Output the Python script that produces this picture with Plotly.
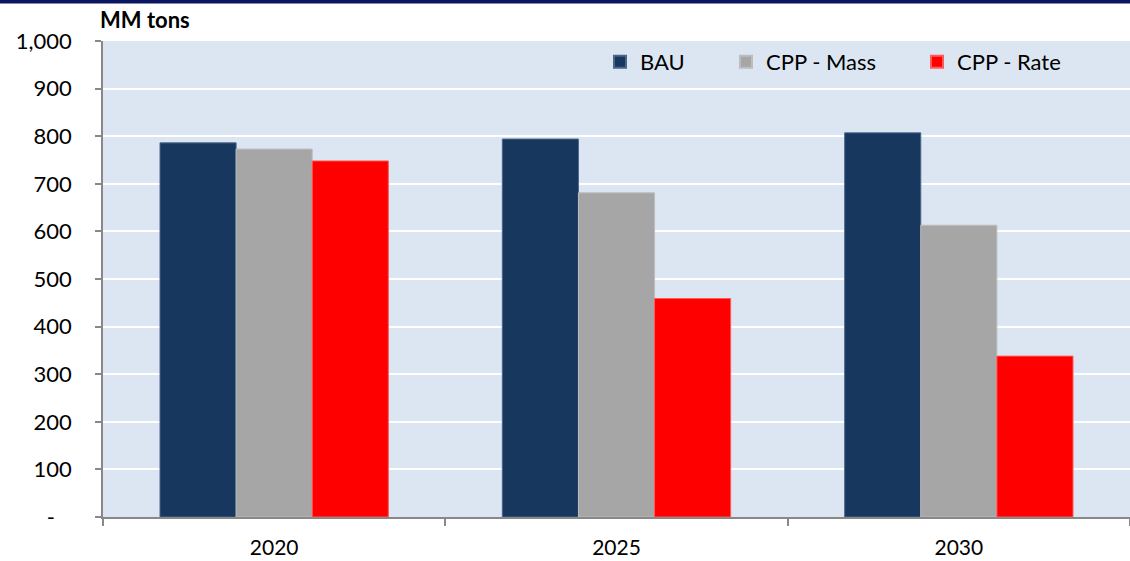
import plotly.graph_objects as go

categories = ["2020", "2025", "2030"]
bau = [786, 794, 807]
cpp_mass = [773, 681, 613]
cpp_rate = [748, 459, 338]
series_names = ["BAU", "CPP - Mass", "CPP - Rate"]
colors = ["#17375E", "#A6A6A6", "#FF0000"]
y_tickvals = [0, 100, 200, 300, 400, 500, 600, 700, 800, 900, 1000]
y_ticktext = ["-\u00a0\u00a0\u00a0", "100", "200", "300", "400", "500", "600", "700", "800", "900", "1,000"]

FONT = "Lato"
fig = go.Figure()
legend_ids = ["legend2", "legend3", "legend4"]
outline = ["#4A6688", "#BDBDBD", "#FF5A5A"]
for vals, name, col, lg, oc in zip([bau, cpp_mass, cpp_rate], series_names, colors, legend_ids, outline):
    fig.add_trace(go.Bar(x=categories, y=vals, name=name, legend=lg, showlegend=True,
                         marker=dict(color=col, line=dict(color=oc, width=1))))

W, H = 1130, 561
L, R, T, B = 103, 0, 41, 44
plot_w = W - L - R
plot_h = H - T - B

def px_x(px):
    return (px - L) / plot_w

def px_y(py):
    return (H - B - py) / plot_h

legend_common = dict(orientation="h", xanchor="left", yanchor="middle",
                     bgcolor="rgba(0,0,0,0)", font=dict(family=FONT, size=22, color="#000000"),
                     itemsizing="constant", itemwidth=30)
leg_pos = [600, 726, 917]
fig.update_layout(
    width=W, height=H,
    margin=dict(l=L, r=R, t=T, b=B, autoexpand=False),
    paper_bgcolor="white",
    plot_bgcolor="#DCE6F2",
    barmode="group",
    bargap=0.333,
    bargroupgap=0,
    showlegend=True,
    font=dict(family=FONT, size=22, color="#000000"),
    legend2=dict(x=px_x(leg_pos[0]), y=px_y(62), **legend_common),
    legend3=dict(x=px_x(leg_pos[1]), y=px_y(62), **legend_common),
    legend4=dict(x=px_x(leg_pos[2]), y=px_y(62), **legend_common),
    title=dict(text="<b>MM tons</b>", x=100 / W, xanchor="left", xref="container",
               y=1 - 20 / H, yanchor="middle", yref="container",
               font=dict(family=FONT, size=22, color="#000000")),
    xaxis=dict(showgrid=False, showline=True, linecolor="#888888", linewidth=2,
               ticks="outside", tickson="boundaries", ticklen=7, tickcolor="#888888",
               tickwidth=1.5, ticklabelstandoff=11, tickfont=dict(family=FONT, size=21),
               automargin=False),
    yaxis=dict(range=[0, 1000], tickvals=y_tickvals, ticktext=y_ticktext,
               showgrid=True, gridcolor="white", gridwidth=2,
               showline=True, linecolor="#888888", linewidth=1.5,
               ticks="outside", ticklen=6, tickcolor="#888888", tickwidth=1.5,
               ticklabelstandoff=19, tickfont=dict(family=FONT, size=22),
               zeroline=False, automargin=False),
    shapes=[dict(type="rect", xref="paper", yref="paper",
                 x0=-0.2, x1=1.1, y0=px_y(3.5), y1=px_y(-3),
                 fillcolor="#0B1560", line=dict(width=0), layer="above")],
)

fig.write_html("out.html", config={"displayModeBar": False},
               post_script="document.body.style.margin='0';document.body.style.overflow='hidden';")
